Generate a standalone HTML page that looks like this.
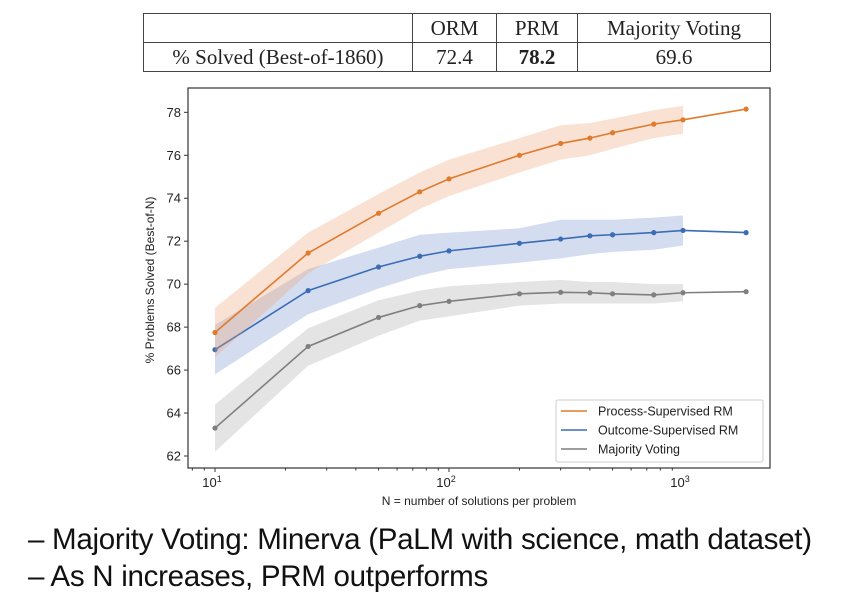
<!DOCTYPE html>
<html><head><meta charset="utf-8"><style>
body{margin:0;width:842px;height:598px;background:#fff;overflow:hidden;position:relative;font-family:"Liberation Sans",sans-serif}
table{position:absolute;left:143px;top:13px;border-collapse:collapse;font-family:"Liberation Serif",serif;font-size:21px;color:#222}
td{border:1.5px solid #444;padding:0 8px;height:28px;text-align:center}
.b{position:absolute;left:28px;font-size:30px;color:#111;white-space:nowrap;letter-spacing:-0.3px;transform-origin:0 0;transform:scaleX(0.985)}
</style></head><body>
<table>
<tr><td style="width:252px;border-top:1.5px solid #444"></td><td style="width:67px">ORM</td><td style="width:64px">PRM</td><td style="width:176px">Majority Voting</td></tr>
<tr><td>% Solved (Best-of-1860)</td><td>72.4</td><td><b>78.2</b></td><td>69.6</td></tr>
</table>
<svg id="c" width="842" height="598" style="position:absolute;left:0;top:0"></svg>
<div class="b" style="top:523px">– Majority Voting: Minerva (PaLM with science, math dataset)</div>
<div class="b" style="top:560px">– As N increases, PRM outperforms</div>
<script>
const nVals=[10,25,50,75,100,200,300,400,500,750,1000,1860];
const prm=[67.75,71.45,73.3,74.3,74.9,76.0,76.55,76.8,77.05,77.45,77.65,78.15];
const prmLo=[66.6,70.5,72.4,73.5,74.1,75.2,75.8,76.0,76.3,76.8,77.0];
const prmHi=[68.9,72.4,74.2,75.2,75.8,76.8,77.4,77.5,77.7,78.1,78.3];
const orm=[66.95,69.7,70.8,71.3,71.55,71.9,72.1,72.25,72.3,72.4,72.5,72.4];
const ormLo=[65.8,68.6,69.8,70.4,70.7,71.0,71.2,71.4,71.5,71.6,71.8];
const ormHi=[68.1,70.7,71.7,72.3,72.4,72.6,73.0,73.0,73.0,73.1,73.2];
const mv=[63.3,67.1,68.45,69.0,69.2,69.55,69.62,69.6,69.55,69.5,69.6,69.65];
const mvLo=[62.2,66.2,67.6,68.3,68.5,69.0,69.1,69.1,69.1,69.1,69.2];
const mvHi=[64.4,67.95,69.25,69.7,69.9,70.1,70.2,70.1,70.1,70.0,70.0];
const yTicks=[62,64,66,68,70,72,74,76,78];
const xTicks=[10,100,1000];
const xLabels=["1","2","3"];
const NS="http://www.w3.org/2000/svg",svg=document.getElementById('c');
const L=188,R=770,T=88,B=468;
const X=n=>215+234*Math.log10(n/10);
const Y=v=>456-(v-62)*21.48;
function mk(t,a,p){const e=document.createElementNS(NS,t);for(const k in a)e.setAttribute(k,a[k]);(p||svg).appendChild(e);return e;}
const fr=mk('rect',{x:L,y:T,width:R-L,height:B-T,fill:'none',stroke:'#333','stroke-width':1.2});


yTicks.forEach(v=>{
 const l=mk('line',{x1:L-4,x2:L,y1:Y(v),y2:Y(v),stroke:'#333'});
 
 
 const t=mk('text',{x:L-7,y:Y(v)+4.5,'text-anchor':'end','font-size':13,fill:'#222','font-family':'Liberation Sans'});t.textContent=v;
 
 
});
for(let d=1;d<=3;d++)for(let m=1;m<10;m++){const n=m*Math.pow(10,d-1);const x=X(n);if(x<L||x>R)continue;
 const l=mk('line',{x1:x,x2:x,y1:B,y2:B+(m==1?4:2.5),stroke:'#333'});
 
 }
xTicks.forEach((n,i)=>{const t=mk('text',{x:X(n)-3,y:B+19,'text-anchor':'middle','font-size':13,fill:'#222'});
 t.innerHTML='10<tspan dy="-5" font-size="9">'+xLabels[i]+'</tspan>';
 
 });
const xt=mk('text',{x:479,y:505,'text-anchor':'middle','font-size':12,fill:'#222'});xt.textContent='N = number of solutions per problem';


const yt=mk('text',{x:0,y:0,'text-anchor':'middle','font-size':12,fill:'#222',transform:'translate(154,280) rotate(-90)'});yt.textContent='% Problems Solved (Best-of-N)';


function series(vals,lo,hi,col,fill,name){
 let d='';lo.forEach((v,i)=>d+=(i?'L':'M')+X(nVals[i])+','+Y(v));
 for(let i=hi.length-1;i>=0;i--)d+='L'+X(nVals[i])+','+Y(hi[i]);
 const b=mk('path',{d:d+'Z',fill:fill,'fill-opacity':0.3,stroke:'none'});
 
 
 const p=mk('polyline',{points:vals.map((v,i)=>X(nVals[i])+','+Y(v)).join(' '),fill:'none',stroke:col,'stroke-width':1.6});
 
 
 vals.forEach((v,i)=>{const c=mk('circle',{cx:X(nVals[i]),cy:Y(v),r:2.6,fill:col});
  
  });
}
series(mv,mvLo,mvHi,'#7f7f7f','#a6a6a6','majority-voting');
series(orm,ormLo,ormHi,'#3a6db5','#6f8fc9','orm');
series(prm,prmLo,prmHi,'#e07b2e','#eaa06e','prm');
const lg=mk('g',{});


mk('rect',{x:556,y:400,width:207,height:62,rx:2,fill:'#fff',stroke:'#ccc'},lg);
[['Process-Supervised RM','#e07b2e'],['Outcome-Supervised RM','#3a6db5'],['Majority Voting','#7f7f7f']].forEach((e,i)=>{
 const y=411+i*19;
 const ln=mk('line',{x1:561,x2:587,y1:y,y2:y,stroke:e[1],'stroke-width':1.6},lg);
 
 
 const t=mk('text',{x:598,y:y+4.5,'font-size':12.5,fill:'#222'},lg);t.textContent=e[0];
 
 
});
</script>
</body></html>
